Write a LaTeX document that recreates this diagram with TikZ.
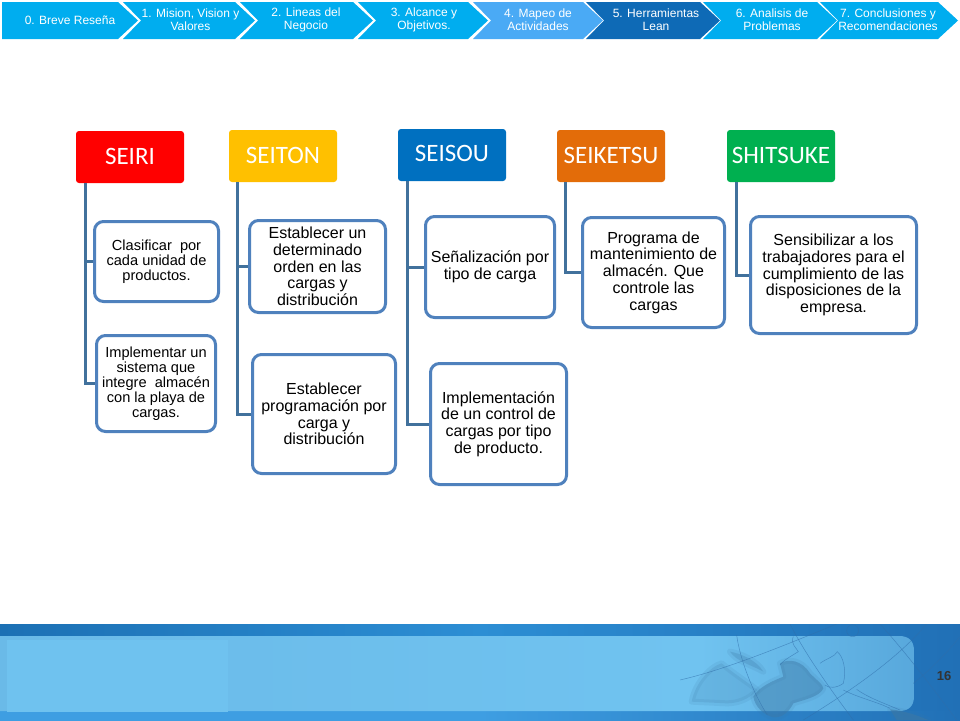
\documentclass[tikz,border=0pt]{standalone}
\usepackage{fontspec}
\setmainfont{Liberation Sans}
\newfontfamily\headfont{Carlito}
\definecolor{navcyan}{RGB}{0,173,239}
\definecolor{navlight}{RGB}{74,170,245}
\definecolor{navdark}{RGB}{14,106,182}
\definecolor{colorseiri}{RGB}{255,0,0}
\definecolor{colorseiton}{RGB}{255,192,0}
\definecolor{colorseisou}{RGB}{0,112,192}
\definecolor{colorseiketsu}{RGB}{227,108,9}
\definecolor{colorshitsuke}{RGB}{0,176,80}
\definecolor{leafline}{RGB}{79,129,189}
\definecolor{trunkline}{RGB}{65,113,156}
\definecolor{bandleft}{RGB}{28,112,180}
\definecolor{bandmid}{RGB}{44,142,212}
\definecolor{bandright}{RGB}{33,112,182}
\definecolor{bandlow}{RGB}{62,158,226}
\definecolor{panelleft}{RGB}{106,186,232}
\definecolor{panelmid}{RGB}{112,195,240}
\definecolor{panelright}{RGB}{88,168,220}
\definecolor{mapdark}{RGB}{60,120,165}
\definecolor{mapline}{RGB}{48,110,170}
\tikzset{
  Head/.style={rectangle, rounded corners=3pt, text=white, inner sep=0pt,
               minimum width=108pt, minimum height=52pt,
               font=\headfont\fontsize{25}{29}\selectfont},
  Leaf/.style={rectangle, rounded corners=9pt, draw=leafline, line width=3pt, fill=white,
               align=center, inner sep=0pt, font=\fontsize{16}{16.7}\selectfont},
  SmallLeaf/.style={Leaf, font=\fontsize{14.6}{15}\selectfont},
  Branch/.style={draw=trunkline, line width=3pt},
  NavText/.style={text=white, align=center, inner sep=0pt, font=\fontsize{12}{13}\selectfont},
  MapLine/.style={draw=mapline, line width=.5pt, opacity=.6},
  MapSea/.style={fill=mapdark, draw=mapdark, line width=6pt, line join=round, draw opacity=.12}
}
% one step of the top bar: left, tip, colour
\newcommand{\Chevron}[3]{
  \fill[#3] (#1,2) -- (#2-20,2) -- (#2,20.5) -- (#2-20,39) -- (#1,39) -- (#1+18,20.5) -- cycle;
}
\begin{document}
\begin{tikzpicture}[x=1pt,y=-1pt]
\useasboundingbox (0,0) rectangle (960,720);

% top bar
\fill[navcyan] (2,2) -- (118,2) -- (138,20.5) -- (118,39) -- (2,39) -- cycle;
\Chevron{123}{255}{navcyan}
\Chevron{240}{373}{navcyan}
\Chevron{358}{488}{navcyan}
\Chevron{473}{603}{navlight}
\Chevron{586}{720}{navdark}
\Chevron{703}{837}{navcyan}
\Chevron{820}{958}{navcyan}
\node[NavText] (nav0) at (70,20) {0. Breve Reseña};
\node[NavText] (nav1) at (190.5,19.5) {1. Mision, Vision y\\Valores};
\node[NavText] (nav2) at (306,19.5) {2. Lineas del\\Negocio};
\node[NavText] (nav3) at (424,19.5) {3. Alcance y\\Objetivos.};
\node[NavText] (nav4) at (538,19.5) {4. Mapeo de\\Actividades};
\node[NavText] (nav5) at (656,19.5) {5. Herramientas\\Lean};
\node[NavText] (nav6) at (772,19.5) {6. Analisis de\\Problemas};
\node[NavText] (nav7) at (888,19.5) {7. Conclusiones y\\Recomendaciones};

% heads
\node[Head, fill=colorseiri] (seiri) at (130,157) {\raisebox{1pt}{SEIRI}};
\node[Head, fill=colorseiton] (seiton) at (283,156) {\raisebox{1pt}{SEITON}};
\node[Head, fill=colorseisou] (seisou) at (452,155) {\raisebox{3pt}{SEISOU}};
\node[Head, fill=colorseiketsu] (seiketsu) at (611,156) {\raisebox{1pt}{SEIKETSU}};
\node[Head, fill=colorshitsuke] (shitsuke) at (781,156) {\raisebox{1pt}{SHITSUKE}};

% leaves
\node[SmallLeaf, minimum width=124pt, minimum height=80pt] (clasificar) at (156.5,261.5)
  {Clasificar\ \ por\\cada unidad de\\productos.};
\node[SmallLeaf, minimum width=119pt, minimum height=96pt] (implementar) at (156,383.5)
  {Implementar un\\sistema que\\integre\ \ almacén\\con la playa de\\cargas.};
\node[Leaf, minimum width=136pt, minimum height=92pt] (orden) at (317.5,266.5)
  {Establecer un\\determinado\\orden en las\\cargas y\\distribución};
\node[Leaf, minimum width=143pt, minimum height=119pt] (programacion) at (324,414)
  {Establecer\\programación por\\carga y\\distribución};
\node[Leaf, minimum width=129pt, minimum height=101pt] (senalizacion) at (490,267)
  {Señalización por\\tipo de carga};
\node[Leaf, minimum width=136pt, minimum height=121pt] (control) at (498.5,424)
  {Implementación\\de un control de\\cargas por tipo\\de producto.};
\node[Leaf, minimum width=142pt, minimum height=110pt] (programa) at (653.5,272.5)
  {Programa de\\mantenimiento de\\almacén. Que\\controle las\\cargas};
\node[Leaf, minimum width=166pt, minimum height=117pt] (sensibilizar) at (833.5,275)
  {Sensibilizar a los\\trabajadores para el\\cumplimiento de las\\disposiciones de la\\empresa.};

% connectors
\draw[Branch] ([xshift=10pt]seiri.south west) |- (clasificar.west);
\draw[Branch] ([xshift=10pt]seiri.south west) |- (implementar.west);
\draw[Branch] ([xshift=9pt]seiton.south west) |- (orden.west);
\draw[Branch] ([xshift=9pt]seiton.south west) |- (programacion.west);
\draw[Branch] ([xshift=10pt]seisou.south west) |- (senalizacion.west);
\draw[Branch] ([xshift=10pt]seisou.south west) |- (control.west);
\draw[Branch] ([xshift=9pt]seiketsu.south west) |- (programa.west);
\draw[Branch] ([xshift=10pt]shitsuke.south west) |- (sensibilizar.west);

% bottom band
\shade[left color=bandleft, right color=bandright, middle color=bandmid] (0,624) rectangle (960,711);
\shade[left color=bandlow, right color=bandright, middle color=bandlow] (0,711) rectangle (960,720);
\begin{scope}
\clip (0,636) -- (899,636) .. controls (909,636) and (914,641) .. (914,651) -- (914,696)
  .. controls (914,706) and (909,711) .. (899,711) -- (0,711) -- cycle;
\shade[left color=panelleft, right color=panelmid] (0,636) rectangle (700,711);
\shade[left color=panelmid, right color=panelright] (700,636) rectangle (914,711);
\end{scope}
\fill[panelmid!85!panelleft] (7,640) rectangle (228,712);

% map, traced on a 3x grid from its corner
\begin{scope}[shift={(680,620)}, x=.3333pt, y=-.3333pt]
\clip (-30,12) rectangle (840,300);
\path[MapSea, fill opacity=.18] (35,245) .. controls (45,190) and (90,140) .. (125,130)
  .. controls (160,160) and (200,185) .. (232,210) .. controls (205,240) and (170,250) .. (140,250) -- cycle;
\path[MapSea, fill opacity=.25] (150,95) .. controls (180,100) and (230,120) .. (250,155)
  .. controls (215,135) and (170,125) .. (150,95) -- cycle;
\path[MapSea, fill opacity=.45] (300,130) .. controls (325,115) and (365,120) .. (390,160)
  .. controls (410,180) and (430,195) .. (430,205) .. controls (420,230) and (370,240) .. (340,250)
  .. controls (330,270) and (310,295) .. (280,292) .. controls (250,285) and (225,260) .. (220,230)
  .. controls (235,200) and (285,180) .. (310,170) -- cycle;
\path[MapSea, fill opacity=.6] (630,268) .. controls (670,272) and (710,285) .. (745,300) -- (650,300) -- cycle;
\draw[MapLine] (420,130) .. controls (440,115) and (465,110) .. (472,95)
  .. controls (490,110) and (500,150) .. (490,190) .. controls (470,205) and (445,205) .. (435,195);
\draw[MapLine] (490,210) .. controls (540,235) and (590,245) .. (630,265);
\draw[MapLine] (530,208) .. controls (560,230) and (600,245) .. (660,270);
\draw[MapLine] (330,12) .. controls (380,110) and (460,220) .. (520,300);
\draw[MapLine] (740,12) .. controls (650,120) and (500,220) .. (370,300);
\draw[MapLine] (600,12) .. controls (680,100) and (770,220) .. (830,300);
\draw[MapLine] (170,45) .. controls (180,120) and (220,220) .. (262,285);
\draw[MapLine] (0,180) .. controls (130,150) and (280,90) .. (470,12);
\draw[MapLine] (840,50) .. controls (800,100) and (750,150) .. (700,190);
\draw[MapLine] (340,50) .. controls (330,70) and (350,85) .. (355,95) .. controls (330,110) and (305,125) .. (300,135);
\draw[MapLine] (518,32) circle (6pt);
\end{scope}

\node[font=\bfseries\fontsize{13}{15}\selectfont, text=black!80, inner sep=0pt] (pagenum) at (944,676) {16};
\end{tikzpicture}
\end{document}
